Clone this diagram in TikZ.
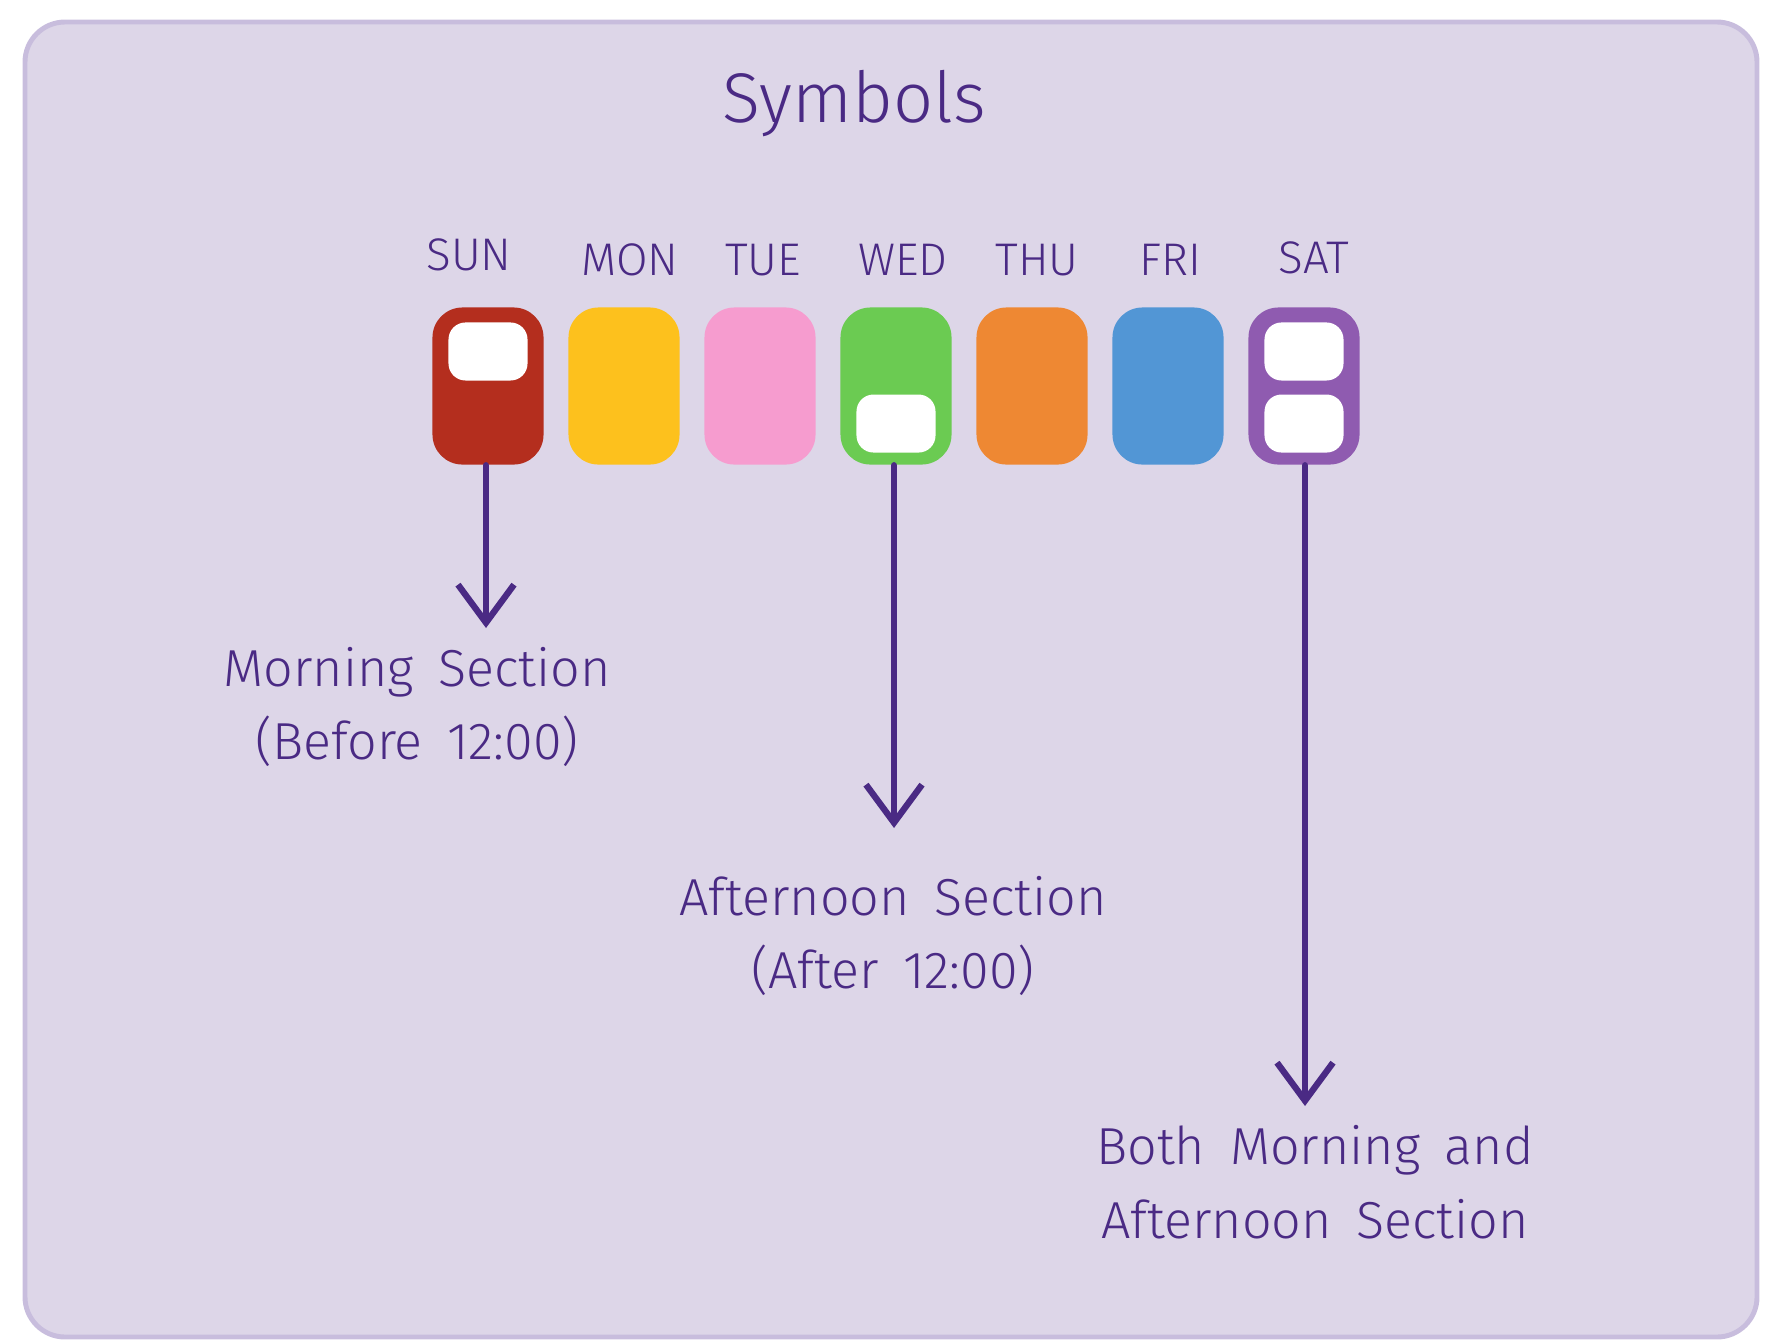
\documentclass[tikz,border=0pt]{standalone}
\usepackage{fontspec}
\usepackage{tikz}
\usetikzlibrary{positioning,arrows.meta}
\setmainfont{Fira Sans Light}[WordSpace=1.7]
\definecolor{panelfill}{RGB}{221, 214, 232}
\definecolor{panelline}{RGB}{200, 189, 221}
\definecolor{inkpurple}{RGB}{74, 42, 132}
\definecolor{sunred}{RGB}{180, 46, 30}
\definecolor{monyellow}{RGB}{253, 193, 29}
\definecolor{tuepink}{RGB}{246, 156, 207}
\definecolor{wedgreen}{RGB}{107, 203, 82}
\definecolor{thuorange}{RGB}{238, 136, 51}
\definecolor{friblue}{RGB}{82, 150, 213}
\definecolor{satpurple}{RGB}{143, 91, 176}

\begin{document}
\begin{tikzpicture}[x=0.01cm, y=-0.01cm,
  daybox/.style={rectangle, rounded corners=0.3cm, minimum width=1.11cm, minimum height=1.57cm, inner sep=0pt},
  slot/.style={rectangle, fill=white, rounded corners=0.17cm, minimum width=0.79cm, minimum height=0.58cm, inner sep=0pt},
  dayname/.style={anchor=base, text=inkpurple, font=\fontsize{13}{16}\selectfont},
  legend/.style={align=center, text=inkpurple, font=\fontsize{14.8}{21}\selectfont},
  sketch/.style={-{Straight Barb[length=0.38cm, width=0.56cm]}, line width=1.8pt, inkpurple, line cap=round}]
\useasboundingbox (0,0) rectangle (1767,1339);
% Panel
\draw[fill=panelfill, draw=panelline, line width=1.4pt, rounded corners=0.4cm] (25,22) rectangle (1757,1337);
\node[text=inkpurple, font=\fontsize{20}{24}\selectfont] (title) at (854,104) {Symbols};

% Day boxes
\node[daybox, fill=sunred] (sun) at (488,386) {};
\node[daybox, fill=monyellow] (mon) at (624,386) {};
\node[daybox, fill=tuepink] (tue) at (760,386) {};
\node[daybox, fill=wedgreen] (wed) at (896,386) {};
\node[daybox, fill=thuorange] (thu) at (1032,386) {};
\node[daybox, fill=friblue] (fri) at (1168,386) {};
\node[daybox, fill=satpurple] (sat) at (1304,386) {};

% White slots
\node[slot, below=0.15cm of sun.north] (sun-am) {};
\node[slot, above=0.12cm of wed.south] (wed-pm) {};
\node[slot, below=0.15cm of sat.north] (sat-am) {};
\node[slot, above=0.12cm of sat.south] (sat-pm) {};

% Day names
\node[dayname] (sun-name) at (469,270) {SUN};
\node[dayname] (mon-name) at (630,275) {MON};
\node[dayname] (tue-name) at (763,275) {TUE};
\node[dayname] (wed-name) at (903,275) {WED};
\node[dayname] (thu-name) at (1037,275) {THU};
\node[dayname] (fri-name) at (1170,275) {FRI};
\node[dayname] (sat-name) at (1314,273) {SAT};

% Legend texts
\node[legend] (morning) at (417,707) {Morning Section\\(Before 12:00)};
\node[legend] (afternoon) at (893,936) {Afternoon Section\\(After 12:00)};
\node[legend] (both) at (1315,1182) {Both Morning and\\Afternoon Section};

% Arrows
\coordinate (sun-tip) at (486,628);
\coordinate (wed-tip) at (894,828);
\coordinate (sat-tip) at (1305,1106);
\draw[sketch] (sun.south -| sun-tip) -- (sun-tip);
\draw[sketch] (wed.south -| wed-tip) -- (wed-tip);
\draw[sketch] (sat.south -| sat-tip) -- (sat-tip);
\end{tikzpicture}
\end{document}
